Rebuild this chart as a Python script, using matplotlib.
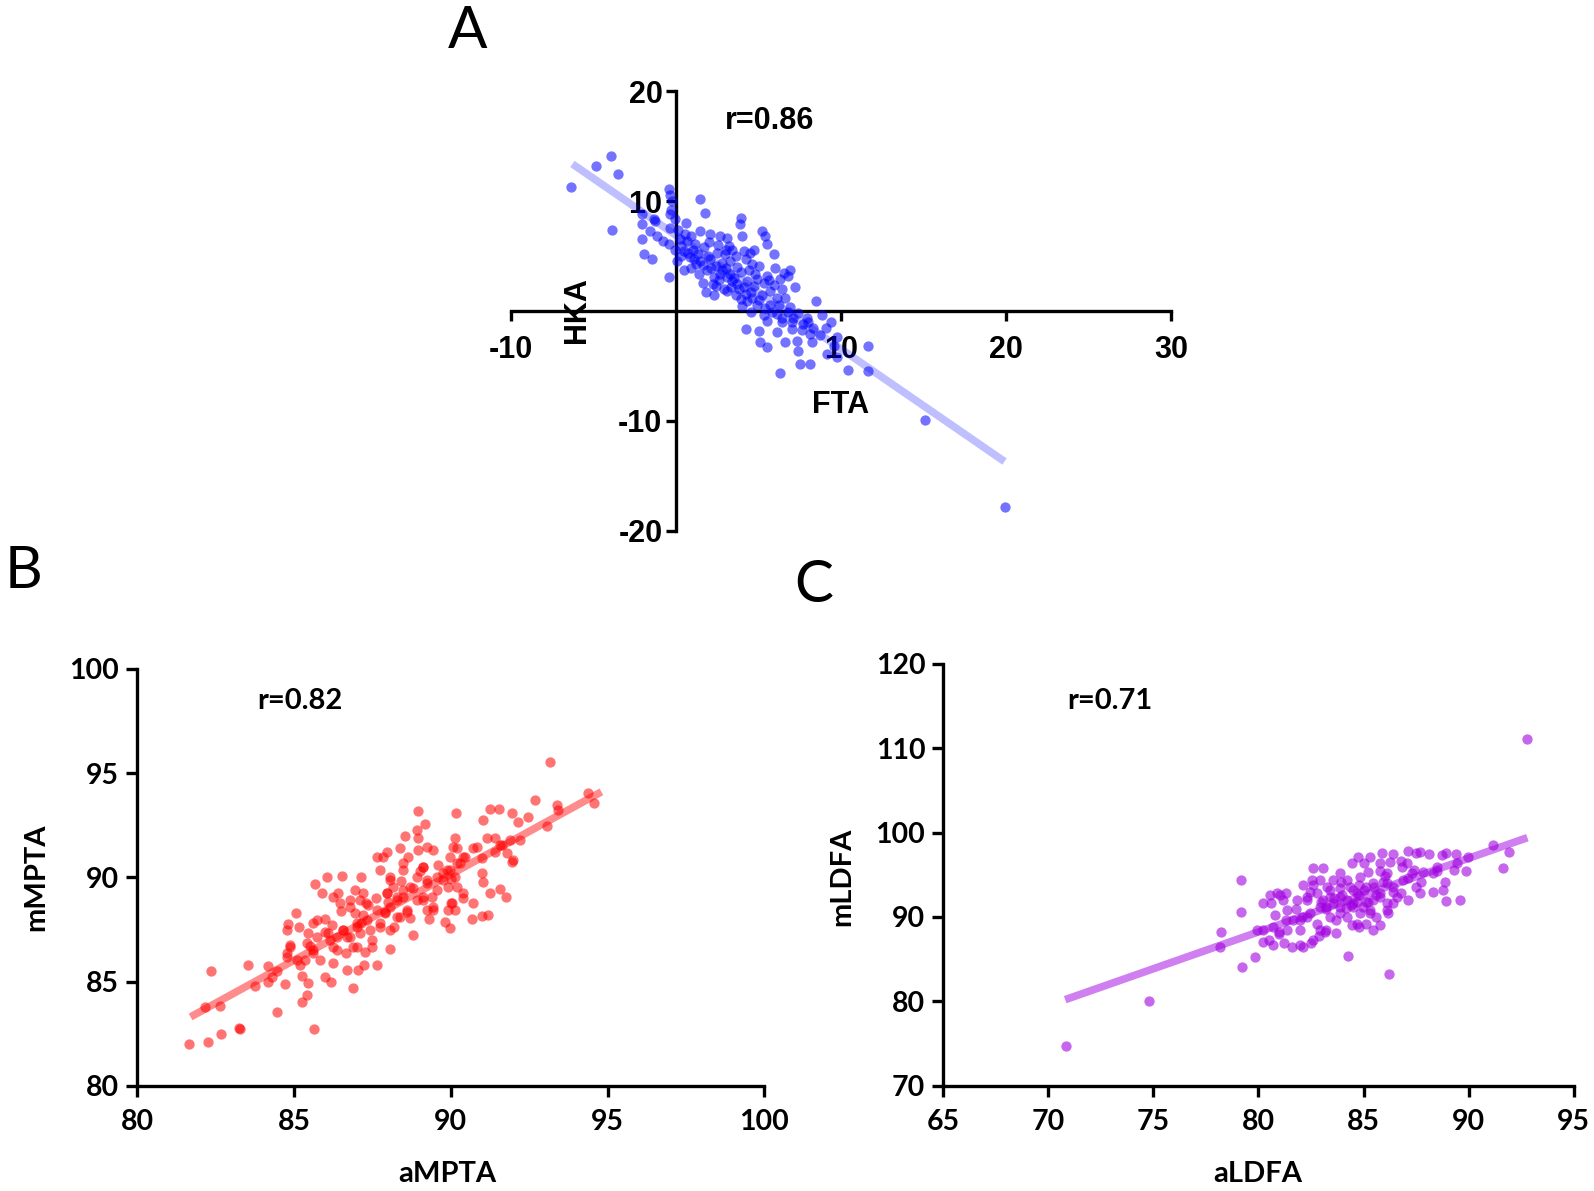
import matplotlib
matplotlib.use("Agg")
import matplotlib.pyplot as plt
import numpy as np

# ---------------- data ----------------
# Panel A: FTA (x) vs HKA (y)
fta = [-6.4, -4.86, -3.95, -3.54, -3.9, -2.08, -2.08, -2.08, -1.98, -1.48, -1.17, -1.38, -0.47, -0.47,
       -0.26, -0.36, -0.47, 1.46, 1.76, 3.9,
       -0.4, -0.4, -1.28, -0.06, 0.04, 1.42, 2.06, 2.67, 3.08, 0.65, 1.15, 1.66, 0.45, 0.85, 1.46, 2.06,
       2.47, 2.98, 3.28, 3.68, 3.28, 2.67, 2.27, 1.86, 1.36, 0.45, 3.85, 3.99, 3.38, 4.09, 4.49, 4.70,
       5.2, 5.4, 5.5, 5.9, 5.0, 4.4, 4.9, 5.5, 6.5, 6.9, 6.8, 7.2, 6.4, 5.7, 5.2, 4.5, 4.1, 3.7, 3.3,
       2.9, 2.3, 1.8, 2.2, 6.1, 6.6, 5.7, 4.9, 4.3, 4.0, 4.5, 5.3, 6.1, 6.8, 7.1, 7.7, 8.5, 8.85, 9.35,
       9.05, 9.76, 9.55, 9.15, 9.76, 10.4, 11.6, 11.6, 8.1, 8.2, 7.3, 7.4, 6.6, 6.1, 5.5, 5.0, 4.2, 5.1,
       5.5, 7.5, 8.1, 6.3, 3.9, 6.3,
       0.2, 0.5, 0.9, 1.0, 1.3, 1.9, 2.5, 2.8, 3.0, 3.5, 3.9, 4.3, 4.7, 5.3, 5.9, 6.2, 6.9, 7.4, 7.9,
       8.3, 8.7, 7.0, 6.4, 3.6, 2.6, 1.2, 0.3, 2.0, 3.2, 4.6, -0.8, -1.6, -0.3,
       0.3, 0.7, 1.1, 1.6, 2.1, 2.4, 2.8, 3.1, 3.4, 3.8, 4.2, 4.6, 5.0, 5.4, 5.8, 6.4, 7.0, 7.6, 8.0,
       3.0, 3.6, 4.2, 4.8, 5.6, 6.0, 0.9, 1.6, 2.4, 3.1, 0.1, 0.6, -0.1,
       15.06, 19.9]
hka = [11.3, 13.2, 14.1, 12.5, 7.4, 8.8, 7.9, 6.6, 5.2, 4.7, 6.8, 8.4, 3.1, 11.1,
       10.0, 7.6, 6.1, 10.2, 8.9, 8.5,
       10.6, 8.8, 8.2, 5.6, 4.6, 7.3, 7.0, 6.8, 6.7, 6.4, 6.1, 5.8, 5.5, 4.9, 4.6, 4.7,
       5.3, 5.2, 4.6, 4.0, 3.4, 3.4, 3.1, 3.7, 3.4, 3.7, 7.9, 6.8, 5.6, 5.5, 5.3, 5.6,
       7.3, 6.8, 6.1, 5.2, 4.1, 3.7, 2.9, 3.2, 3.5, 3.7, 3.2, 2.2, 2.0, 1.8, 1.5, 1.7, 2.2, 2.5, 2.2,
       2.0, 1.5, 1.7, 2.5, 1.2, 1.2, 0.6, 0.6, 0.9, 0.5, -0.1, -0.4, -0.3, -0.1, -0.6, -1.2, 0.9, -0.4, -1.0,
       -1.5, -2.4, -3.2, -3.9, -4.2, -5.4, -3.2, -5.5, -2.1, -2.8, -2.7, -3.6, -2.8, -1.9, -0.9, -1.8, -1.6, -2.8,
       -3.3, -4.8, -4.8, -5.6, 1.1, 2.9,
       6.6, 7.0, 6.8, 5.6, 5.2, 5.0, 6.0, 4.4, 3.9, 3.0, 3.6, 2.7, 2.3, 2.6, 2.4, 0.6, 0.4, -0.2, -0.6,
       -1.5, -2.2, -1.6, -1.0, 1.5, 2.8, 4.3, 5.0, 6.3, 5.9, 4.3, 6.4, 7.3, 9.2,
       5.9, 5.3, 4.7, 4.2, 3.9, 4.1, 3.7, 3.1, 2.7, 2.0, 1.6, 1.2, 1.0, 0.3, -0.1, -0.6, -1.0, -1.7, -1.0,
       5.6, 5.0, 4.7, 3.4, 2.8, 3.9, 3.9, 2.6, 2.3, 1.8, 7.4, 8.0, 8.4,
       -9.9, -17.8]
fit_a_x = [-6.3, 19.9]
fit_a_y = [13.4, -13.7]

# Panel B: aMPTA (x) vs mMPTA (y)
ampta = [81.66, 82.25, 82.66, 83.24, 83.28, 82.35, 82.16, 82.64, 83.54, 83.76, 84.16, 84.18, 84.45, 84.45,
         84.71, 84.76, 84.87, 84.76, 85.06, 84.82, 85.15, 85.24, 85.24, 85.4, 85.46, 85.35, 85.62, 85.46,
         85.62, 85.72, 85.65, 85.67, 85.88, 86.04, 85.99, 86.15, 85.99, 86.18, 86.25, 86.36, 86.25, 86.41,
         86.47, 86.54, 86.57, 86.68, 86.68, 86.87, 86.78, 86.94, 87.15, 87.21, 87.31, 86.94, 87.0, 87.15,
         87.0, 87.26, 87.48, 87.05, 87.23, 87.63, 87.42, 87.63, 87.95, 87.74, 88.06, 87.95, 87.9, 87.74,
         88.06, 88.06, 88.17, 88.27, 88.38, 88.54, 88.91, 88.96, 89.17, 88.96, 88.64, 88.96, 88.48, 88.48,
         88.59, 88.69, 88.8, 88.38, 89.12, 89.44, 89.23, 89.12, 89.39, 89.44, 89.55, 89.76, 89.87, 89.97,
         90.17, 90.13, 90.08, 89.92, 90.18, 90.02, 90.13, 89.81, 89.97, 90.4, 90.45, 90.29, 90.72, 90.98,
         91.04, 91.25, 91.55, 91.14, 91.41, 91.62, 91.78, 91.99, 91.94, 92.15, 92.47, 92.2, 91.04, 91.25,
         91.57, 91.76, 90.72, 90.66, 90.98, 91.19, 91.94, 92.68, 93.05, 93.37, 93.43, 93.16, 94.36, 94.55,
         87.95, 88.27, 88.06, 88.48, 88.7, 88.91, 89.12, 89.23, 89.55, 89.76, 89.97, 90.12, 90.19, 90.03,
         89.92, 89.44, 89.23, 88.59, 88.27, 87.9, 87.63, 87.37, 87.1, 87.32, 86.78, 87.0, 86.57, 86.36,
         86.09, 86.78, 87.1, 85.72, 85.4, 84.87, 84.76, 85.08, 85.61, 85.82, 86.25, 86.67, 86.89, 87.74,
         88.06, 88.91, 89.12, 88.48, 87.85, 89.23, 90.19, 90.4, 90.82, 91.57, 91.88,
         86.0, 86.5, 87.2, 87.6, 88.0, 88.4, 88.8, 89.0, 89.6, 90.0, 87.5, 88.2, 86.2, 85.5, 85.2, 84.3,
         89.3, 90.4, 91.0, 91.4]
mmpta = [82.0, 82.08, 82.48, 82.78, 82.7, 85.52, 83.76, 83.82, 85.78, 84.78, 85.74, 84.99, 83.55, 85.52,
         84.88, 86.19, 86.75, 87.47, 88.3, 87.76, 87.6, 85.26, 84.03, 84.35, 84.91, 86.03, 86.51, 87.31,
         87.79, 87.95, 82.7, 89.68, 89.26, 90.03, 87.39, 86.99, 85.23, 85.0, 85.87, 86.51, 89.07, 89.23,
         88.75, 90.08, 87.47, 87.15, 85.55, 84.67, 88.91, 89.39, 90.03, 89.23, 88.75, 88.27, 87.63, 87.79,
         86.67, 86.43, 86.67, 85.55, 85.79, 85.79, 87.47, 90.99, 91.23, 90.35, 90.03, 89.23, 88.35, 87.63,
         87.47, 86.54, 89.55, 88.91, 91.39, 91.98, 92.27, 93.2, 92.56, 91.87, 90.99, 91.31, 90.35, 89.07,
         88.43, 88.03, 87.23, 88.11, 90.51, 91.31, 89.71, 88.91, 89.07, 88.43, 90.03, 89.87, 90.35, 90.99,
         93.1, 91.87, 91.47, 89.55, 89.55, 88.75, 88.43, 87.87, 87.55, 89.23, 90.99, 90.67, 91.39, 90.91,
         92.75, 93.26, 93.26, 91.87, 91.23, 91.55, 91.15, 90.83, 93.07, 92.67, 92.91, 91.79, 89.79, 89.23,
         89.42, 89.07, 88.75, 87.98, 88.14, 88.19, 90.75, 93.71, 92.46, 93.47, 93.23, 95.55, 94.05, 93.56,
         89.23, 89.07, 88.59, 89.39, 89.55, 88.91, 89.07, 89.87, 89.39, 90.19, 90.35, 90.03, 90.67, 88.75,
         88.43, 88.59, 88.43, 88.35, 88.11, 88.27, 88.43, 88.67, 88.91, 87.95, 88.59, 87.79, 87.47, 87.15,
         87.31, 87.15, 87.31, 87.15, 86.83, 86.67, 86.35, 86.03, 86.35, 86.03, 86.67, 86.35, 86.67, 87.79,
         89.87, 90.03, 90.51, 90.67, 90.99, 91.47, 91.39, 90.99, 91.47, 91.55, 91.79,
         88.0, 88.4, 88.2, 89.0, 88.8, 89.8, 89.5, 90.3, 90.6, 89.9, 87.0, 87.6, 87.7, 86.7, 85.8, 85.2,
         88.0, 89.0, 90.2, 91.9]
fit_b_x = [81.7, 94.8]
fit_b_y = [83.3, 94.1]

# Panel C: aLDFA (x) vs mLDFA (y)
aldfa = [70.82, 74.79, 92.79, 79.15, 79.15, 78.24, 78.17, 79.83, 79.23, 84.27, 86.21, 91.17, 91.93, 91.65,
         89.98, 89.9, 89.43, 88.92, 88.72, 88.92, 88.79, 88.87, 88.32, 88.48, 87.84, 87.68, 87.76, 87.13,
         87.49, 86.81, 86.26, 85.86, 85.78, 85.23, 84.75, 84.43, 82.61, 82.53, 82.13, 80.86, 80.55, 80.23,
         81.34, 80.78, 81.18, 81.82, 82.29, 82.77, 83.24, 83.56, 83.95, 84.35, 84.67, 85.14, 85.46, 85.94,
         86.42, 86.58, 86.1, 86.18, 85.78, 85.46, 84.67, 84.43, 83.88, 83.4, 82.93, 82.45, 82.93, 83.16,
         82.61, 82.13, 81.58, 80.71, 80.23, 79.91, 80.71, 81.34, 81.66, 82.05, 83.88, 84.51, 84.98, 85.46,
         85.3, 83.56, 84.19, 84.83, 86.89, 87.29, 86.1, 84.83, 83.88, 83.4, 82.45, 84.67, 87.05, 85.78,
         83.08, 84.0, 85.0, 83.2, 84.4, 85.6, 86.4, 82.0, 83.6, 84.8, 85.2, 86.0, 81.0, 83.0,
         83.09, 82.6, 82.93, 81.02, 81.33, 80.62, 81.8, 82.3, 83.4, 83.9, 84.2, 84.5, 85.0, 85.3, 84.8,
         85.1, 85.5, 85.8, 86.1, 86.4, 86.8, 87.1, 87.4, 87.7, 88.1, 86.8, 86.4, 86.1, 85.6, 85.1, 84.8,
         84.2, 83.7, 83.2, 82.8, 82.3, 82.0, 81.3, 81.0, 80.5, 80.2, 81.2, 82.0, 82.5, 82.9, 83.7, 88.3,
         88.5, 89.3, 89.6, 89.4, 83.9, 84.5, 83.2, 84.2, 85.3, 85.8, 87.1, 87.5]
mldfa = [74.7, 80.04, 111.09, 94.38, 90.59, 88.18, 86.48, 85.21, 84.11, 85.37, 83.24, 98.48, 97.66, 95.84,
         97.15, 95.45, 96.36, 97.62, 97.34, 91.89, 93.19, 94.18, 95.17, 95.96, 95.37, 92.88, 94.18, 97.86,
         97.54, 95.96, 96.55, 97.54, 96.36, 95.37, 97.15, 96.36, 95.76, 94.38, 93.79, 92.8, 92.6, 91.61,
         90.82, 90.23, 92.0, 92.0, 92.4, 92.8, 93.59, 94.38, 94.18, 93.59, 92.8, 93.59, 93.98, 94.18,
         93.59, 92.4, 91.61, 90.43, 89.04, 88.45, 89.16, 89.04, 90.43, 90.03, 91.22, 90.43, 88.45, 88.25,
         87.26, 86.48, 86.48, 86.68, 87.07, 88.45, 88.85, 88.45, 89.64, 90.03, 92.4, 91.61, 91.22, 92.0,
         90.43, 91.61, 91.02, 90.43, 94.38, 95.17, 95.17, 94.78, 95.17, 93.19, 93.0, 91.81, 96.36, 92.8,
         92.0, 92.6, 93.2, 91.0, 91.4, 92.6, 93.0, 89.6, 92.2, 93.8, 91.8, 94.8, 88.2, 91.8,
         95.76, 93.8, 94.4, 92.6, 92.8, 91.6, 91.0, 92.0, 92.4, 93.4, 94.4, 93.2, 96.4, 97.1, 92.6,
         91.8, 93.6, 95.4, 94.0, 97.5, 96.6, 94.6, 95.6, 97.7, 97.5, 92.8, 91.6, 90.8, 90.0, 89.2, 88.8,
         90.0, 89.6, 88.4, 89.2, 90.0, 88.4, 89.6, 88.0, 87.3, 88.4, 86.9, 86.7, 86.9, 87.7, 88.1, 93.0,
         95.4, 95.6, 92.0, 97.5, 91.2, 91.2, 91.2, 92.0, 90.8, 92.4, 92.0, 93.6]
fit_c_x = [70.8, 92.8]
fit_c_y = [80.2, 99.4]

# ---------------- figure ----------------
W, H = 1594, 1191
plt.rcParams['font.family'] = ['Lato', 'DejaVu Sans']
plt.rcParams['axes.unicode_minus'] = False
fig = plt.figure(figsize=(W / 100, H / 100), dpi=100)

def ftext(x, y, s, **kw):
    fig.text(x / W, 1 - y / H, s, **kw)

arial = ['Liberation Sans', 'DejaVu Sans']
SPW = 2.4
MS = 55

# Panel A
axA = fig.add_axes([0.3208, 0.5544, 0.4139, 0.3688])
axA.set_xlim(-10, 30)
axA.set_ylim(-20, 20)
for s in ['top', 'right']:
    axA.spines[s].set_visible(False)
axA.spines['left'].set_position(('data', 0))
axA.spines['bottom'].set_position(('data', 0))
for s in ['left', 'bottom']:
    axA.spines[s].set_linewidth(SPW)
axA.set_xticks([-10, 10, 20, 30])
axA.set_yticks([-20, -10, 10, 20])
axA.tick_params(axis='both', width=SPW, length=7, direction='out')
axA.tick_params(axis='x', pad=10)
axA.tick_params(axis='y', pad=3)
for lbl in axA.get_xticklabels() + axA.get_yticklabels():
    lbl.set_family(arial)
    lbl.set_fontweight('bold')
    lbl.set_fontsize(22)
axA.plot(fit_a_x, fit_a_y, color='#0000ff', alpha=0.25, lw=5.5, solid_capstyle='butt', zorder=2.8)
axA.scatter(fta, hka, s=MS, color='#0000ff', alpha=0.55, linewidths=0, zorder=3)
ftext(770, 121, 'r=0.86', family=arial, fontweight='bold', fontsize=22, ha='center', va='center')
ftext(577, 310, 'HKA', family=arial, fontweight='bold', fontsize=22, ha='center', va='center', rotation=90)
ftext(841, 405, 'FTA', family=arial, fontweight='bold', fontsize=22, ha='center', va='center')
ftext(468, 31, 'A', fontsize=42, ha='center', va='center', fontweight='normal')

def style_box(ax):
    for s in ['top', 'right']:
        ax.spines[s].set_visible(False)
    for s in ['left', 'bottom']:
        ax.spines[s].set_linewidth(SPW)
    ax.tick_params(axis='both', width=SPW, length=8, direction='out', labelsize=20.5, pad=5)
    ax.tick_params(axis='x', pad=9)
    for lbl in ax.get_xticklabels() + ax.get_yticklabels():
        lbl.set_fontweight('bold')

# Panel B
axB = fig.add_axes([0.0861, 0.0884, 0.3935, 0.35])
axB.set_xlim(80, 100)
axB.set_ylim(80, 100)
axB.set_xticks([80, 85, 90, 95, 100])
axB.set_yticks([80, 85, 90, 95, 100])
style_box(axB)
axB.plot(fit_b_x, fit_b_y, color='#ff0000', alpha=0.45, lw=5.5, solid_capstyle='butt', zorder=2.8)
axB.scatter(ampta, mmpta, s=MS, color='#ff0000', alpha=0.55, linewidths=0, zorder=3)
ftext(300, 701, 'r=0.82', fontweight='bold', fontsize=21, ha='center', va='center')
ftext(36, 877, 'mMPTA', fontweight='bold', fontsize=21, ha='center', va='center', rotation=90)
ftext(447, 1174, 'aMPTA', fontweight='bold', fontsize=21, ha='center', va='center')
ftext(23, 572, 'B', fontsize=42, ha='center', va='center', fontweight='normal')

# Panel C
axC = fig.add_axes([0.5918, 0.0884, 0.3954, 0.3542])
axC.set_xlim(65, 95)
axC.set_ylim(70, 120)
axC.set_xticks([65, 70, 75, 80, 85, 90, 95])
axC.set_yticks([70, 80, 90, 100, 110, 120])
style_box(axC)
axC.plot(fit_c_x, fit_c_y, color='#a000e0', alpha=0.5, lw=5.5, solid_capstyle='butt', zorder=2.8)
axC.scatter(aldfa, mldfa, s=MS, color='#a000e0', alpha=0.6, linewidths=0, zorder=3)
ftext(1110, 701, 'r=0.71', fontweight='bold', fontsize=21, ha='center', va='center')
ftext(842, 877, 'mLDFA', fontweight='bold', fontsize=21, ha='center', va='center', rotation=90)
ftext(1258, 1174, 'aLDFA', fontweight='bold', fontsize=21, ha='center', va='center')
ftext(814, 585, 'C', fontsize=42, ha='center', va='center', fontweight='normal')

fig.savefig('out.png', dpi=100)
